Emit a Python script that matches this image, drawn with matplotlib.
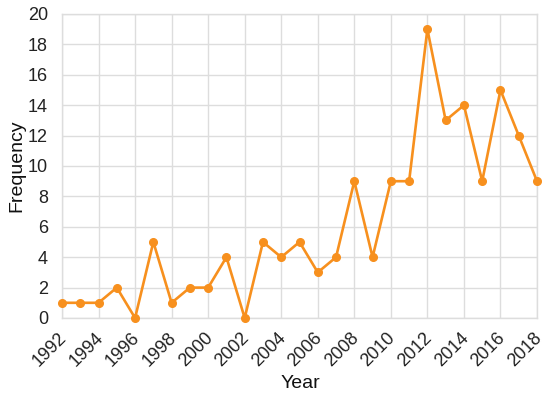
import matplotlib
matplotlib.use("Agg")
import matplotlib.pyplot as plt
from matplotlib.transforms import ScaledTranslation

years = list(range(1992, 2019))
frequency = [1, 1, 1, 2, 0, 5, 1, 2, 2, 4, 0, 5, 4, 5, 3, 4, 9, 4, 9, 9, 19, 13, 14, 9, 15, 12, 9]
xticks = list(range(1992, 2019, 2))
yticks = list(range(0, 21, 2))

plt.rcParams['font.family'] = ['Liberation Sans', 'DejaVu Sans']

fig = plt.figure(figsize=(5.5, 3.98), dpi=100)
ax = fig.add_axes([62/550, 1 - 318/398, (537 - 62)/550, (318 - 14)/398])

ax.plot(years, frequency, color='#F7901E', lw=1.9, marker='o', ms=5.5, zorder=3, clip_on=False)

ax.set_xlim(1992, 2018)
ax.set_ylim(0, 20)
ax.set_xticks(xticks)
ax.set_yticks(yticks)
ax.set_xticklabels([str(t) for t in xticks], rotation=45, ha='right', rotation_mode='anchor', fontsize=13, color='#222222')
ax.set_yticklabels([str(t) for t in yticks], fontsize=13, color='#222222')
ax.tick_params(axis='y', length=0, pad=10)
ax.tick_params(axis='x', length=0, pad=6)
offset = ScaledTranslation(-4/100, -3/100, fig.dpi_scale_trans)
for lbl in ax.get_xticklabels():
    lbl.set_transform(lbl.get_transform() + offset)
ax.grid(True, color='#DDDDDD', lw=1)
ax.set_axisbelow(True)
for s in ax.spines.values():
    s.set_color('#DDDDDD')
    s.set_linewidth(1)

ax.set_xlabel('Year', fontsize=14, color='#111111')
ax.set_ylabel('Frequency', fontsize=14, color='#111111')
ax.xaxis.set_label_coords((300 - 62) / 475, (318 - 383) / 304)
ax.xaxis.label.set_va('center')
ax.yaxis.set_label_coords((17 - 62) / 475, 0.5)
ax.yaxis.label.set_va('center')

fig.savefig('out.png', dpi=100)
